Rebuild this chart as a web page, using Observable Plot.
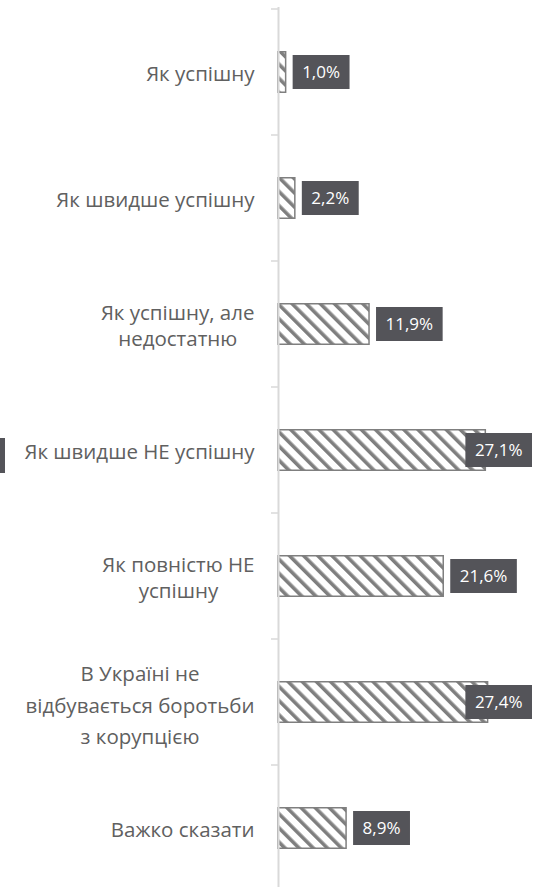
<!DOCTYPE html>
<html><head><meta charset="utf-8">
<script src="https://cdn.jsdelivr.net/npm/d3@7"></script>
<script src="https://cdn.jsdelivr.net/npm/@observablehq/plot@0.6"></script>
<style>
html,body{margin:0;padding:0;background:#fff;}
#chart{position:relative;width:535px;height:887px;overflow:hidden;}
#chart svg{display:block;}
.stub{position:absolute;left:0;top:438px;width:5px;height:35px;background:#545459;}
</style></head><body><div id="chart"><div class="stub"></div></div>
<script>
const categories = [
  "Як успішну",
  "Як швидше успішну",
  "Як успішну, але\nнедостатню",
  "Як швидше НЕ успішну",
  "Як повністю НЕ\nуспішну",
  "В Україні не\nвідбувається боротьби\nз корупцією",
  "Важко сказати"
];
const values = [1.0, 2.2, 11.9, 27.1, 21.6, 27.4, 8.9];
const valueLabels = ["1,0%", "2,2%", "11,9%", "27,1%", "21,6%", "27,4%", "8,9%"];

const data = categories.map((c, i) => ({category: c, value: values[i], label: valueLabels[i]}));

const W = 535, H = 887;
const FONT = '"Open Sans", "Noto Sans", sans-serif';
const catFont = 20.5, valFont = 17;
const ctx = document.createElement("canvas").getContext("2d");
function measure(t, size) { ctx.font = `${size}px ${FONT}`; return ctx.measureText(t).width; }

const hatchDefs = () => {
  const g = d3.create("svg:g");
  const p = g.append("defs").append("pattern")
    .attr("id", "hatch").attr("patternUnits", "userSpaceOnUse")
    .attr("width", 10).attr("height", 10)
    .attr("patternTransform", "rotate(-45)");
  p.append("rect").attr("width", 10).attr("height", 10).attr("fill", "#fff");
  p.append("rect").attr("width", 3.6).attr("height", 10).attr("fill", "#7f7f7f");
  return g.node();
};

const ticks = (index, scales) => {
  const y = scales.y, x = scales.x;
  const step = y.step ? y.step() : y.bandwidth();
  const x0 = x(0);
  const ys = categories.map(c => y(c)).concat([y(categories[categories.length - 1]) + step]);
  const g = d3.create("svg:g");
  g.selectAll("line").data(ys).join("line")
    .attr("x1", x0 - 7).attr("x2", x0).attr("y1", d => d).attr("y2", d => d)
    .attr("stroke", "#d9d9d9").attr("stroke-width", 1.5);
  return g.node();
};

const valueBoxes = (index, scales) => {
  const y = scales.y, x = scales.x;
  const bw = y.bandwidth();
  const g = d3.create("svg:g").attr("font-family", FONT).attr("font-size", valFont);
  data.forEach(d => {
    const cy = y(d.category) + bw / 2;
    const tw = measure(d.label, valFont);
    const boxW = tw + 19, boxH = 34;
    const bx = Math.min(x(d.value) + 7, W - 3 - boxW);
    g.append("rect").attr("x", bx).attr("y", cy - boxH / 2)
      .attr("width", boxW).attr("height", boxH).attr("fill", "#545459");
    g.append("text").attr("x", bx + boxW / 2).attr("y", cy)
      .attr("dy", "0.35em").attr("text-anchor", "middle")
      .attr("fill", "#fff").text(d.label);
  });
  return g.node();
};

const catMarks = data.map(d => {
  const lines = d.category.split("\n");
  const w = Math.max(...lines.map(l => measure(l, catFont)));
  const lh = lines.length >= 3 ? 31.5 / catFont : 26.7 / catFont;
  return Plot.text([d], {
    x: () => 0, y: "category", text: "category",
    textAnchor: "middle", dx: -(24 + w / 2),
    lineHeight: lh, fontSize: catFont, fill: "#606060"
  });
});

const chart = Plot.plot({
  width: W, height: H,
  marginLeft: 278, marginRight: 27.5, marginTop: 7, marginBottom: 0,
  style: {fontFamily: FONT, background: "#fff"},
  x: {domain: [0, 30], axis: null},
  y: {domain: categories, range: [7, 892.5], padding: 0, axis: null},
  marks: [
    hatchDefs,
    Plot.barX(data, {
      x: "value", y: "category",
      fill: "url(#hatch)", stroke: "#7f7f7f", strokeWidth: 1.5,
      insetTop: 42.75, insetBottom: 42.75
    }),
    ticks,
    Plot.ruleX([0], {stroke: "#d9d9d9", strokeWidth: 2}),
    ...catMarks,
    valueBoxes
  ]
});
document.getElementById("chart").appendChild(chart);
</script>
</body></html>
